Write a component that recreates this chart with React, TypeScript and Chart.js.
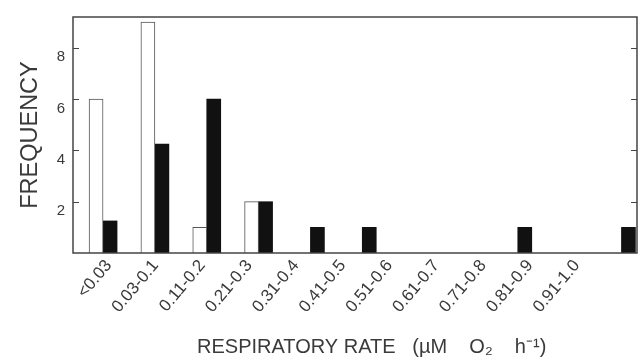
import { useEffect, useRef } from 'react';
import { Chart, registerables } from 'chart.js';

Chart.register(...registerables);

const CATEGORIES = [
  '<0.03', '0.03-0.1', '0.11-0.2', '0.21-0.3', '0.31-0.4', '0.41-0.5',
  '0.51-0.6', '0.61-0.7', '0.71-0.8', '0.81-0.9', '0.91-1.0',
];
const OPEN_VALUES = [6, 9, 1, 2, null, null, null, null, null, null, null];
const FILLED_VALUES = [1.25, 4.25, 6, 2, 1, 1, null, null, 1, null, 1];
const Y_TICKS = [2, 4, 6, 8];
const NB = '\u00A0';
const X_TITLE =
  NB.repeat(6) + 'RESPIRATORY RATE' + NB.repeat(3) + '(\u00B5M' + NB.repeat(4) + 'O\u2082' + NB.repeat(4) + 'h\u207B\u00B9)';
const Y_TITLE = 'FREQUENCY';

const FONT = '"Liberation Sans", Arial, Helvetica, sans-serif';
const TEXT = '#3a3a3a';
const LINE = '#444';

const framePlugin = {
  id: 'frame',
  afterDraw(chart: any) {
    const { ctx, chartArea: a, scales } = chart;
    const y = scales.y;
    ctx.save();
    ctx.strokeStyle = LINE;
    ctx.lineWidth = 1.5;
    ctx.strokeRect(a.left, a.top, a.right - a.left, a.bottom - a.top);
    ctx.lineWidth = 1;
    for (const v of Y_TICKS) {
      const p = Math.round(y.getPixelForValue(v)) + 0.5;
      ctx.beginPath();
      ctx.moveTo(a.left, p);
      ctx.lineTo(a.left + 6, p);
      ctx.moveTo(a.right, p);
      ctx.lineTo(a.right - 6, p);
      ctx.stroke();
    }
    ctx.restore();
  },
};

export default function App() {
  const ref = useRef<HTMLCanvasElement | null>(null);

  useEffect(() => {
    if (!ref.current) return;
    const toPoints = (arr: (number | null)[]) => arr.map((v, i) => ({ x: i, y: v }));
    const chart = new Chart(ref.current, {
      type: 'bar',
      data: {
        datasets: [
          {
            label: 'open',
            data: toPoints(OPEN_VALUES) as any,
            backgroundColor: '#ffffff',
            borderColor: '#555',
            borderWidth: 1,
            barThickness: 14,
          },
          {
            label: 'filled',
            data: toPoints(FILLED_VALUES) as any,
            backgroundColor: '#111111',
            borderWidth: 0,
            barThickness: 14,
          },
        ],
      },
      options: {
        responsive: false,
        animation: false,
        devicePixelRatio: 1,
        layout: { padding: { top: 12, right: 5, left: 0, bottom: 0 } },
        plugins: { legend: { display: false }, tooltip: { enabled: false } },
        scales: {
          x: {
            type: 'linear',
            offset: false,
            min: -0.58,
            max: 10.3,
            display: false,
          },
          xl: {
            type: 'linear',
            position: 'bottom',
            offset: false,
            min: -0.763,
            max: 11.288,
            afterBuildTicks: (s: any) => {
              s.ticks = CATEGORIES.map((_, i) => ({ value: i }));
            },
            afterFit: (s: any) => {
              s.height = 108;
            },
            grid: { display: false, drawTicks: false },
            border: { display: false },
            ticks: {
              autoSkip: false,
              maxRotation: 50,
              minRotation: 50,
              padding: 3,
              color: TEXT,
              font: { family: FONT, size: 17 },
              callback: (v: any) => CATEGORIES[v] ?? '',
            },
            title: {
              display: true,
              text: X_TITLE,
              color: TEXT,
              font: { family: FONT, size: 20 },
              padding: { top: 0, bottom: 1.5 },
            },
          },
          y: {
            type: 'linear',
            min: 0,
            max: 9.2,
            afterFit: (s: any) => {
              s.width = 73;
            },
            grid: { display: false, drawTicks: false },
            border: { display: false },
            ticks: {
              stepSize: 2,
              includeBounds: false,
              labelOffset: 9.5,
              padding: 8,
              color: TEXT,
              font: { family: FONT, size: 15 },
              callback: (v: any) => (v === 0 ? '' : String(v)),
            },
            title: {
              display: true,
              text: Y_TITLE,
              color: TEXT,
              font: { family: FONT, size: 23.5 },
              padding: { top: 16, bottom: 0 },
            },
          },
        },
      },
      plugins: [framePlugin],
    });
    return () => chart.destroy();
  }, []);

  return (
    <div style={{ position: 'absolute', left: 0, top: 0, width: 642, height: 361, background: '#fff' }}>
      <canvas ref={ref} width={642} height={361} style={{ width: 642, height: 361 }} />
    </div>
  );
}
